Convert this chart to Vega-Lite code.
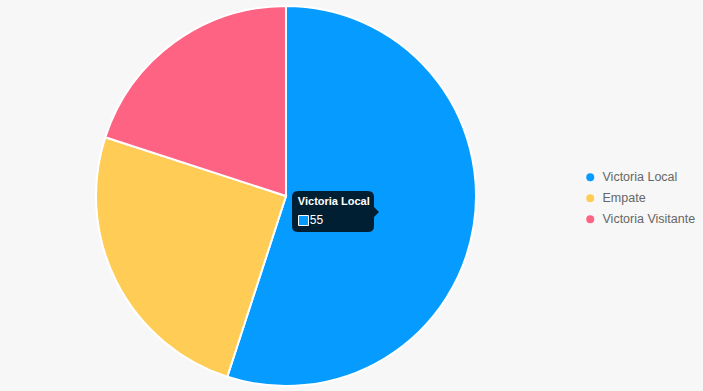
{
  "$schema": "https://vega.github.io/schema/vega-lite/v6.json",
  "width": 572,
  "height": 392,
  "autosize": "none",
  "padding": {"left": 0, "top": 0, "right": 131, "bottom": 0},
  "background": "#f7f7f7",
  "config": {"view": {"stroke": null}},
  "data": {"values": [
    {"resultado": "Victoria Local", "partidos": 55, "orden": 1},
    {"resultado": "Empate", "partidos": 25, "orden": 2},
    {"resultado": "Victoria Visitante", "partidos": 20, "orden": 3}
  ]},
  "layer": [
    {
      "mark": {"type": "arc", "outerRadius": 190, "stroke": "white", "strokeWidth": 2},
      "encoding": {
        "theta": {"field": "partidos", "type": "quantitative", "stack": true},
        "order": {"field": "orden", "type": "quantitative"},
        "color": {
          "field": "resultado", "type": "nominal",
          "scale": {"domain": ["Victoria Local", "Empate", "Victoria Visitante"], "range": ["#059bff", "#ffcd56", "#ff6384"]},
          "legend": {
            "title": null, "orient": "none", "legendX": 584, "legendY": 171, "padding": 0,
            "symbolType": "circle", "symbolSize": 64, "symbolStrokeWidth": 0, "symbolOpacity": 1,
            "labelFont": "Liberation Sans", "labelFontSize": 12.5, "labelColor": "#666666",
            "labelOffset": 6, "rowPadding": 8
          }
        }
      }
    },
    {
      "transform": [{"filter": "datum.resultado === 'Victoria Local'"}],
      "mark": {"type": "point", "shape": "M12,-5 H82 Q88,-5 88,1 V11 L93,16 L88,21 V30 Q88,36 82,36 H12 Q6,36 6,30 V1 Q6,-5 12,-5 Z", "size": 4, "filled": true, "fill": "black", "opacity": 0.8, "strokeWidth": 0},
      "encoding": {}
    },
    {
      "transform": [{"filter": "datum.resultado === 'Victoria Local'"}],
      "mark": {"type": "point", "shape": "M12.5,19.5 H22.5 V29.5 H12.5 Z", "size": 4, "filled": true, "fill": "#059bff", "stroke": "white", "strokeWidth": 1, "opacity": 1},
      "encoding": {}
    },
    {
      "mark": {"type": "text", "radius": 95, "align": "left", "baseline": "alphabetic", "dx": -82, "dy": -6, "font": "Liberation Sans", "fontWeight": "bold", "fontSize": 11, "color": "white"},
      "encoding": {
        "theta": {"field": "partidos", "type": "quantitative", "stack": true},
        "order": {"field": "orden", "type": "quantitative"},
        "detail": {"field": "resultado", "type": "nominal"},
        "text": {"condition": {"test": "datum.resultado === 'Victoria Local'", "field": "resultado", "type": "nominal"}, "value": ""}
      }
    },
    {
      "mark": {"type": "text", "radius": 95, "align": "left", "baseline": "alphabetic", "dx": -70, "dy": 13, "font": "Liberation Sans", "fontSize": 12, "color": "white"},
      "encoding": {
        "theta": {"field": "partidos", "type": "quantitative", "stack": true},
        "order": {"field": "orden", "type": "quantitative"},
        "detail": {"field": "resultado", "type": "nominal"},
        "text": {"condition": {"test": "datum.resultado === 'Victoria Local'", "field": "partidos", "type": "quantitative"}, "value": ""}
      }
    }
  ]
}
